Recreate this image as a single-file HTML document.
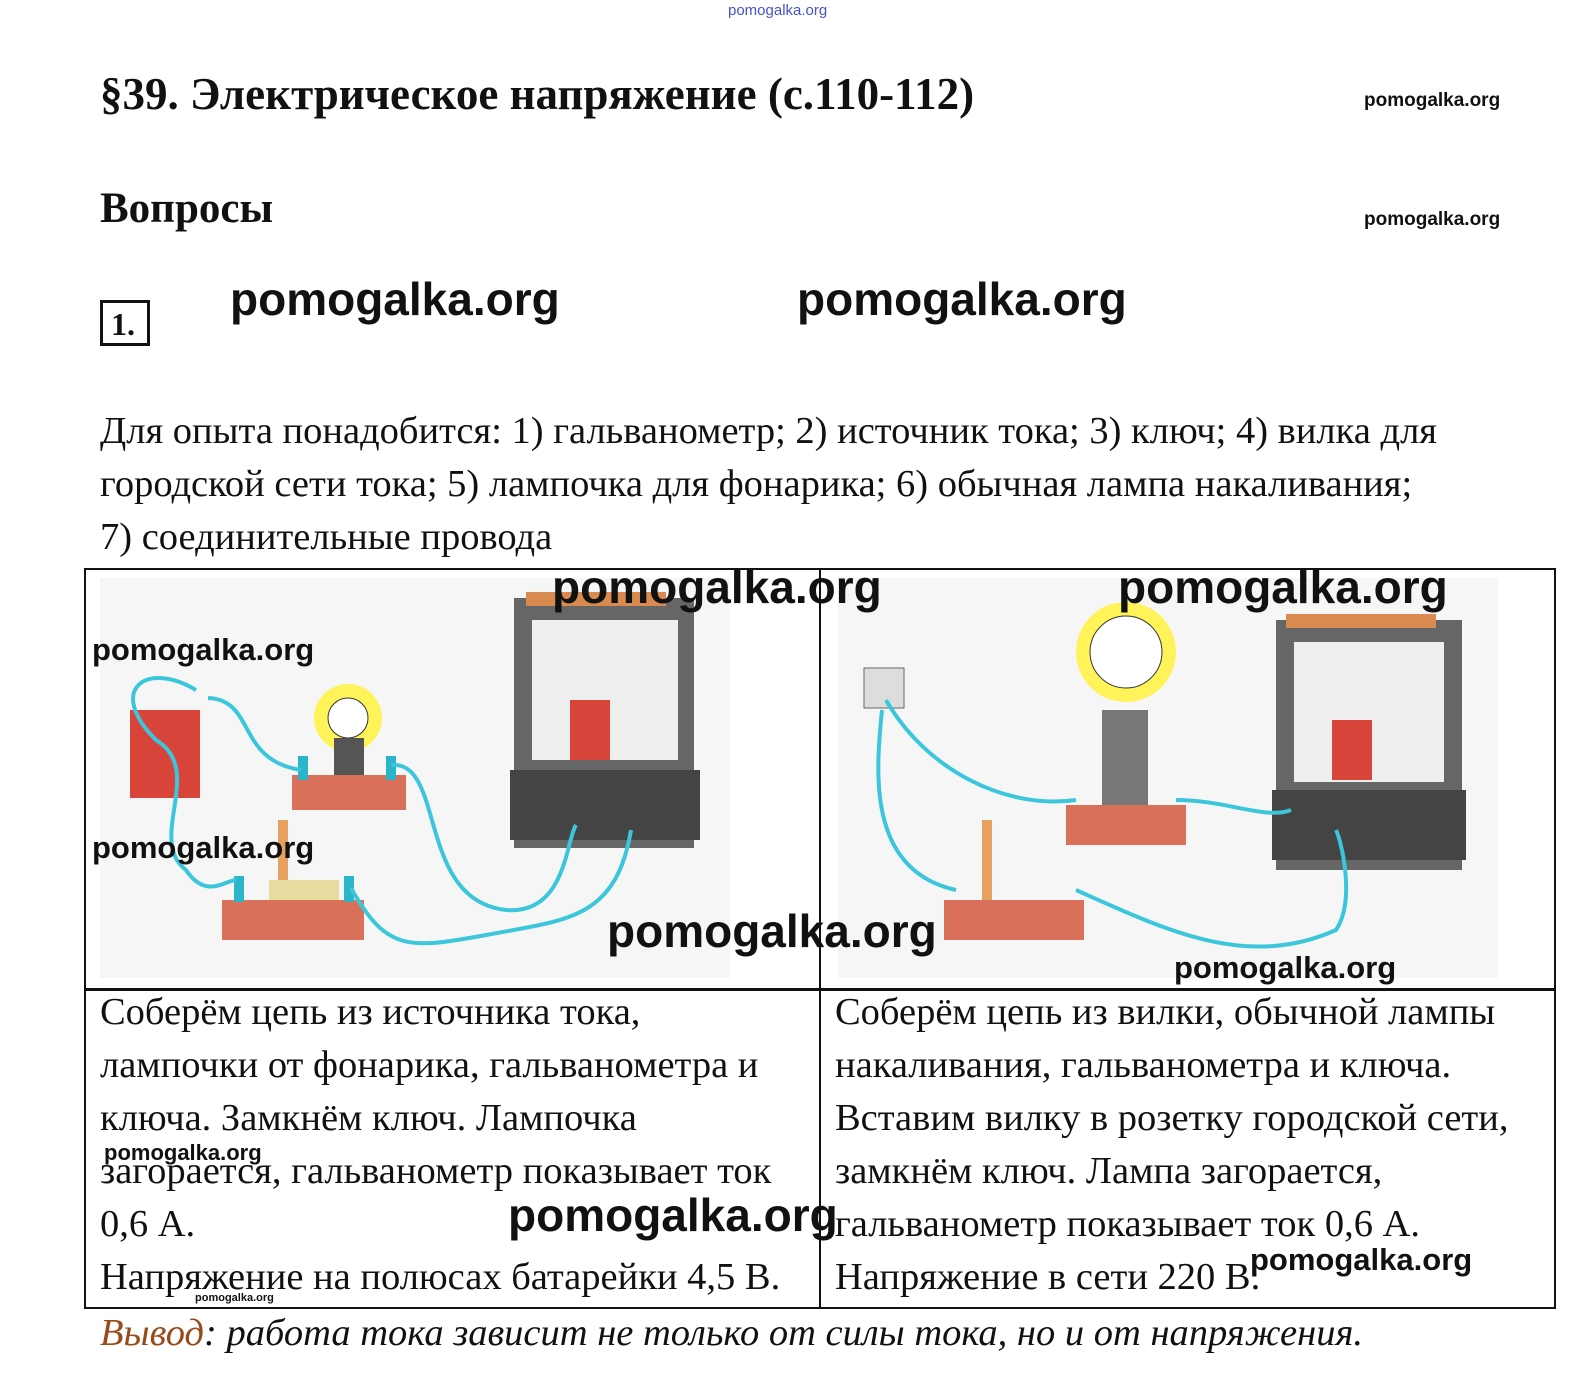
<!DOCTYPE html>
<html><head><meta charset="utf-8"><style>
body{margin:0;width:1582px;height:1399px;background:#fff;position:relative;overflow:hidden;font-family:"Liberation Serif",serif;color:#111}
.a{position:absolute;white-space:nowrap}
.wm{font-family:"Liberation Sans",sans-serif;font-weight:bold;color:#111}
.p{font-size:38.5px;line-height:53px}
</style></head><body>
<div class="a" style="left:728px;top:2px;font-size:15px;color:#4455cc;font-family:'Liberation Sans',sans-serif">pomogalka.org</div>
<div class="a" style="left:100px;top:68px;font-size:45px;font-weight:bold">§39. Электрическое напряжение (с.110-112)</div>
<div class="a wm" style="left:1364px;top:90px;font-size:19px">pomogalka.org</div>
<div class="a" style="left:100px;top:184px;font-size:43px;font-weight:bold">Вопросы</div>
<div class="a wm" style="left:1364px;top:209px;font-size:19px">pomogalka.org</div>
<div class="a" style="left:100px;top:300px;border:3px solid #111;font-size:32px;font-weight:bold;line-height:42px;padding-left:8px;box-sizing:border-box;width:50px;height:46px">1.</div>
<div class="a wm" style="left:230px;top:272px;font-size:46px">pomogalka.org</div>
<div class="a wm" style="left:797px;top:272px;font-size:46px">pomogalka.org</div>
<div class="a p" style="left:100px;top:405px">Для опыта понадобится: 1) гальванометр; 2) источник тока; 3) ключ; 4) вилка для<br>городской сети тока; 5) лампочка для фонарика; 6) обычная лампа накаливания;<br>7) соединительные провода</div>

<div class="a" style="left:84px;top:568px;width:1472px;height:741px;border:2px solid #111;box-sizing:border-box"></div>
<div class="a" style="left:819px;top:568px;width:2px;height:741px;background:#111"></div>
<div class="a" style="left:84px;top:988px;width:1472px;height:3px;background:#111"></div>

<svg class="a" style="left:86px;top:570px" width="1468" height="418">
<rect x="14" y="8" width="630" height="400" fill="#f6f6f6"/>
<rect x="752" y="8" width="660" height="400" fill="#f6f6f6"/>
<rect x="44" y="140" width="70" height="88" fill="#d9443a"/>
<circle cx="262" cy="148" r="34" fill="#fff35a"/><circle cx="262" cy="148" r="20" fill="#fff" stroke="#333"/>
<rect x="248" y="168" width="30" height="40" fill="#555"/>
<rect x="206" y="205" width="114" height="35" fill="#d9705a"/>
<rect x="212" y="186" width="10" height="24" fill="#2ab5c8"/><rect x="300" y="186" width="10" height="24" fill="#2ab5c8"/>
<rect x="136" y="330" width="142" height="40" fill="#d9705a"/>
<rect x="183" y="310" width="70" height="20" fill="#e9dca0"/>
<rect x="192" y="250" width="10" height="60" fill="#e6a060"/>
<rect x="148" y="306" width="10" height="26" fill="#2ab5c8"/><rect x="258" y="306" width="10" height="26" fill="#2ab5c8"/>
<rect x="428" y="28" width="180" height="250" fill="#666"/>
<rect x="446" y="50" width="146" height="140" fill="#eee"/>
<rect x="484" y="130" width="40" height="60" fill="#d9443a"/>
<rect x="424" y="200" width="190" height="70" fill="#444"/>
<rect x="440" y="22" width="140" height="14" fill="#d98a50"/>
<g fill="none" stroke="#3cc6dc" stroke-width="4">
<path d="M110 120 C60 90 20 120 70 170 C120 200 60 270 100 300 C120 330 140 310 150 310"/>
<path d="M122 128 C170 130 150 190 215 200"/>
<path d="M305 195 C360 190 330 330 420 340 C480 345 480 270 490 255"/>
<path d="M265 318 C300 380 320 380 400 365 C480 350 530 350 545 260"/>
</g>
<rect x="778" y="98" width="40" height="40" fill="#ddd" stroke="#666"/>
<circle cx="1040" cy="82" r="50" fill="#fff35a"/><circle cx="1040" cy="82" r="36" fill="#fff" stroke="#333"/>
<rect x="1016" y="140" width="46" height="100" fill="#777"/>
<rect x="980" y="235" width="120" height="40" fill="#d9705a"/>
<rect x="858" y="330" width="140" height="40" fill="#d9705a"/>
<rect x="896" y="250" width="10" height="80" fill="#e6a060"/>
<rect x="1190" y="50" width="186" height="250" fill="#666"/>
<rect x="1208" y="72" width="150" height="140" fill="#eee"/>
<rect x="1246" y="150" width="40" height="60" fill="#d9443a"/>
<rect x="1186" y="220" width="194" height="70" fill="#444"/>
<rect x="1200" y="44" width="150" height="14" fill="#d98a50"/>
<g fill="none" stroke="#3cc6dc" stroke-width="4">
<path d="M796 140 C790 200 780 300 870 320"/>
<path d="M800 130 C840 200 920 240 990 230"/>
<path d="M1090 230 C1140 230 1180 250 1205 240"/>
<path d="M990 320 C1080 360 1160 400 1250 360 C1270 330 1255 270 1250 260"/>
</g>
</svg>
<div class="a wm" style="left:552px;top:560px;font-size:46px">pomogalka.org</div>
<div class="a wm" style="left:1118px;top:560px;font-size:46px">pomogalka.org</div>
<div class="a wm" style="left:92px;top:632px;font-size:31px">pomogalka.org</div>
<div class="a wm" style="left:92px;top:830px;font-size:31px">pomogalka.org</div>
<div class="a wm" style="left:607px;top:904px;font-size:46px">pomogalka.org</div>
<div class="a wm" style="left:1174px;top:950px;font-size:31px">pomogalka.org</div>

<div class="a p" style="left:100px;top:986px">Соберём цепь из источника тока,<br>лампочки от фонарика, гальванометра и<br>ключа. Замкнём ключ. Лампочка<br>загорается, гальванометр показывает ток<br>0,6 А.<br>Напряжение на полюсах батарейки 4,5 В.</div>
<div class="a p" style="left:835px;top:986px">Соберём цепь из вилки, обычной лампы<br>накаливания, гальванометра и ключа.<br>Вставим вилку в розетку городской сети,<br>замкнём ключ. Лампа загорается,<br>гальванометр показывает ток 0,6 А.<br>Напряжение в сети 220 В.</div>
<div class="a wm" style="left:104px;top:1140px;font-size:22px">pomogalka.org</div>
<div class="a wm" style="left:508px;top:1188px;font-size:46px">pomogalka.org</div>
<div class="a wm" style="left:1250px;top:1242px;font-size:31px">pomogalka.org</div>
<div class="a wm" style="left:195px;top:1292px;font-size:11px">pomogalka.org</div>
<div class="a" style="left:100px;top:1311px;font-size:38.5px;font-style:italic"><span style="color:#9a4a1a">Вывод</span>: работа тока зависит не только от силы тока, но и от напряжения.</div>
</body></html>
